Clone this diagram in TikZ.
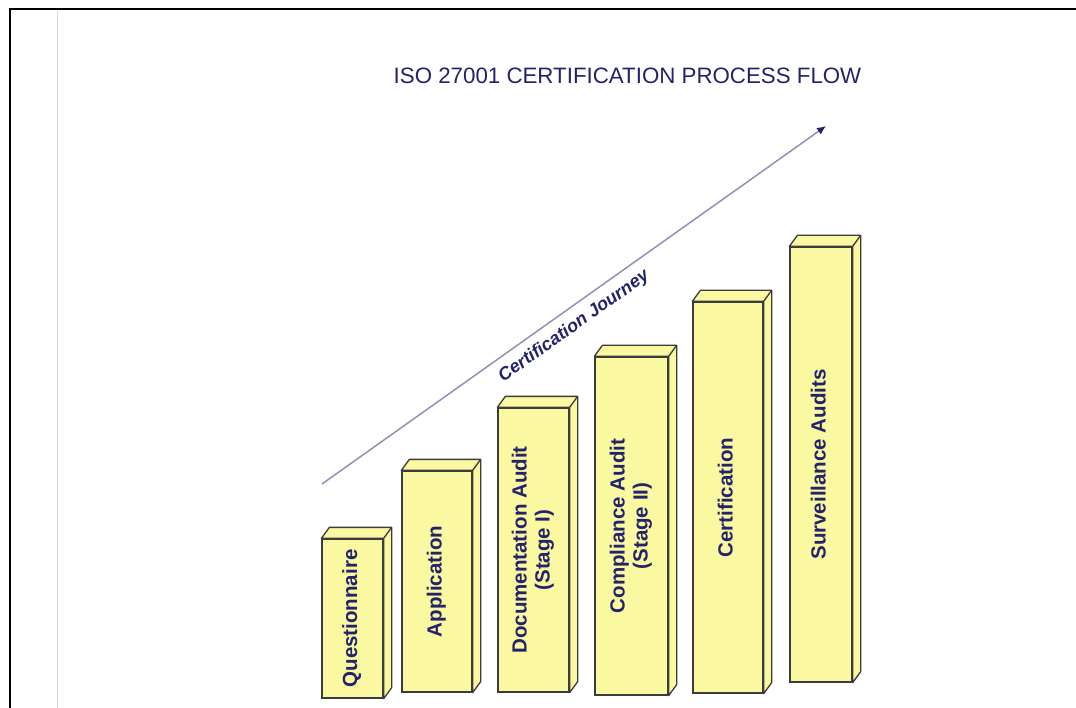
\documentclass[tikz,border=0pt]{standalone}
\usepackage{graphicx}
\usepackage{fontspec}
\setmainfont{Liberation Sans}
\usetikzlibrary{arrows.meta}
\definecolor{navy}{HTML}{23236B}
\definecolor{barfill}{HTML}{FAF8A0}
\definecolor{baredge}{HTML}{3C3C3C}
\newcommand{\vlabel}[1]{\rotatebox{90}{\begin{tabular}{@{}c@{}}#1\end{tabular}}}
\newcommand{\barfaces}[1]{%
	\draw[face] (#1.north west) -- ++(8,-11) -| ([shift={(8,-11)}]#1.south east)
		-- (#1.south east) |- cycle (#1.north east) -- ++(8,-11);}

\begin{document}
\begin{tikzpicture}[
		x=1pt, y=-1pt,
		bar/.style={rectangle,draw=baredge,fill=barfill,line width=1.3pt,
		inner sep=0pt,text=navy,font=\fontsize{20.5}{23}\selectfont\bfseries},
		face/.style={draw=baredge,fill=barfill,line width=1.3pt,line join=round},
		journey/.style={draw=navy!50,line width=1.5pt,
		-{Latex[length=9pt,width=8pt,color=navy]}}
		]
		\useasboundingbox (0,0) rectangle (1076,708);
		\draw[line width=2pt] (10,708) |- (1076,9);
		\draw[black!15, line width=1pt] (57.5,10) -- (57.5,708);

		\node[text=navy, font=\fontsize{22.3}{26}\selectfont] (title) at (627.5,76)
			{ISO 27001 CERTIFICATION PROCESS FLOW};

		\coordinate (jstart) at (322,484);
		\coordinate (jend) at (826,126);
		\draw[journey] (jstart) -- node[pos=0.48, sloped, below=5pt, text=navy,
			font=\fontsize{18}{20}\selectfont\bfseries\itshape] (jlabel)
			{Certification Journey} (jend);

		\node[bar, minimum width=61pt, minimum height=159pt] (quest) at (352.5,618.5)
			{\vlabel{Questionnaire}};
		\node[bar, minimum width=70pt, minimum height=221pt] (appl) at (437,581.5)
			{\vlabel{Application}};
		\node[bar, minimum width=71pt, minimum height=284pt] (docaudit) at (533.5,550)
			{\vlabel{Documentation Audit\\(Stage I)}};
		\node[bar, minimum width=73pt, minimum height=338pt] (compaudit) at (631.5,526)
			{\vlabel{Compliance Audit\\(Stage II)}};
		\node[bar, minimum width=70pt, minimum height=391pt] (certif) at (728,497.5)
			{\vlabel{Certification}};
		\node[bar, minimum width=62pt, minimum height=435pt] (surv) at (821,464.5)
			{\vlabel{Surveillance Audits}};

		\barfaces{quest}
		\barfaces{appl}
		\barfaces{docaudit}
		\barfaces{compaudit}
		\barfaces{certif}
		\barfaces{surv}
	\end{tikzpicture}
\end{document}
